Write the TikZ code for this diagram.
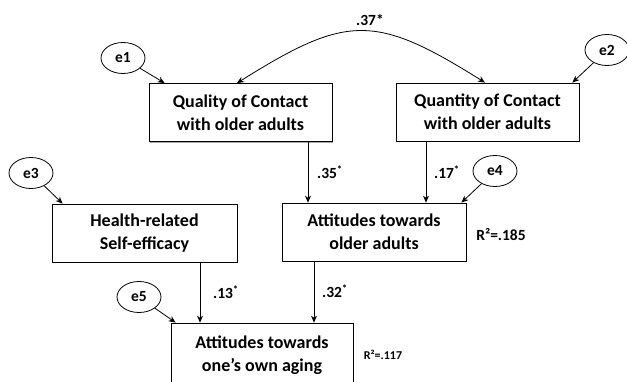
\documentclass[tikz,border=0pt]{standalone}
\usepackage{fontspec}
\setmainfont{Carlito}
\usetikzlibrary{shadows,arrows.meta,shapes.geometric}
\begin{document}
\begin{tikzpicture}[x=1pt,y=-1pt,
  box/.style={draw, line width=0.8pt, fill=white, minimum width=183pt, minimum height=58pt,
    align=center, inner sep=0pt, font=\fontsize{18}{23}\selectfont\bfseries,
    drop shadow={shadow xshift=1.3pt, shadow yshift=-1.3pt, fill=gray!70, opacity=1}},
  err/.style={draw, ellipse, line width=0.8pt, minimum width=44pt, minimum height=31pt, inner sep=0pt,
    font=\fontsize{15.5}{18}\selectfont\bfseries},
  arr/.style={-{Stealth[length=7pt,width=6pt]}, line width=0.8pt},
  lab/.style={font=\fontsize{15.5}{18}\selectfont\bfseries, inner sep=0pt}]
\useasboundingbox (0,0) rectangle (627,381);
\node[box] (qual) at (240.5,112.5) {Quality of Contact\\with older adults};
\node[box] (quan) at (487.5,112) {Quantity of Contact\\with older adults};
\node[box, minimum width=184pt] (att) at (374,232) {Attitudes towards\\older adults};
\node[box, minimum width=185pt] (health) at (144.5,233) {Health-related\\Self-efficacy};
\node[box, minimum width=182pt, minimum height=64pt] (own) at (262,355) {Attitudes towards\\one’s own aging};
\node[err] (e1) at (123,58) {e1};
\node[err] (e2) at (607,50) {e2};
\node[err] (e3) at (31,173) {e3};
\node[err] (e4) at (495,171) {e4};
\node[err] (e5) at (139,297) {e5};
\draw[arr] (e1) -- ([xshift=16pt]qual.north west);
\draw[arr] (e2) -- ([xshift=-7pt]quan.north east);
\draw[arr] (e3) -- ([xshift=11pt]health.north west);
\draw[arr] (e4) -- ([xshift=-5pt]att.north east);
\draw[arr] (e5) -- ([xshift=5pt]own.north west);
\draw[arr] ([xshift=67.5pt]qual.south) -- ([xshift=-66pt]att.north);
\draw[arr] ([xshift=-61.5pt]quan.south) -- ([xshift=52pt]att.north);
\draw[arr] ([xshift=55.5pt]health.south) -- ([xshift=-62pt]own.north);
\draw[arr] ([xshift=-60pt]att.south) -- ([xshift=52pt]own.north);
\draw[{Stealth[length=7pt,width=6pt]}-{Stealth[length=7pt,width=6pt]}, line width=0.8pt]
  ([xshift=-3.5pt]qual.north) .. controls +(110,-69) and +(-110,-69) .. ([xshift=-2.5pt]quan.north);
\node[lab] (l37) at (370,20) {.37*};
\node[lab] (l35) at (330,172) {.35\textsuperscript{*}};
\node[lab] (l17) at (447,172) {.17\textsuperscript{*}};
\node[lab] (l13) at (226,292) {.13\textsuperscript{*}};
\node[lab] (l32) at (335,291) {.32\textsuperscript{*}};
\node[lab] (r1) at (501,235) {R²=.185};
\node[lab, font=\fontsize{12}{14}\selectfont\bfseries] (r2) at (383,355) {R²=.117};
\end{tikzpicture}
\end{document}
